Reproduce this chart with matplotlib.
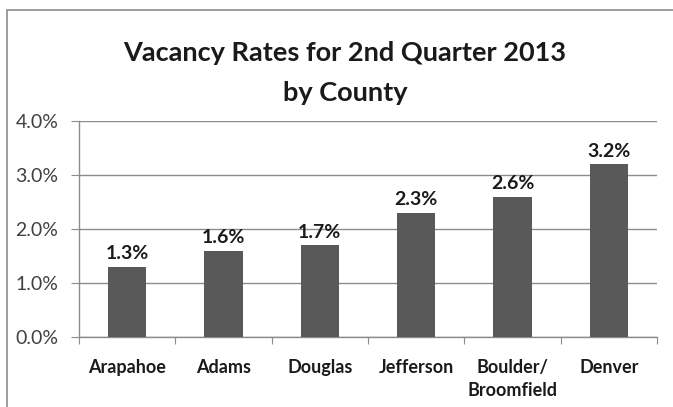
import matplotlib.pyplot as plt
from matplotlib.patches import Rectangle
from matplotlib.ticker import FuncFormatter

counties = ['Arapahoe', 'Adams', 'Douglas', 'Jefferson', 'Boulder/\nBroomfield', 'Denver']
rates = [1.3, 1.6, 1.7, 2.3, 2.6, 3.2]
y_ticks = [0.0, 1.0, 2.0, 3.0, 4.0]
title_lines = ['Vacancy Rates for 2nd Quarter 2013', 'by County']

plt.rcParams['font.family'] = ['Lato', 'DejaVu Sans']

fig = plt.figure(figsize=(6.73, 4.07), dpi=100)
W, H = 673, 407

# outer chart frame, running off the right and bottom edges
fig.patches.append(Rectangle((7 / W, -0.05), 1.1, 1 - 10 / H + 0.05,
                             transform=fig.transFigure, fill=False,
                             edgecolor='#8c8c8c', linewidth=1.2))

ax = fig.add_axes([79 / W, 1 - 337 / H, 578 / W, 216 / H])
x = range(len(counties))
bars = ax.bar(x, rates, width=0.4, color='#595959', zorder=3)

for b, v in zip(bars, rates):
    ax.text(b.get_x() + b.get_width() / 2, v + 0.08, f'{v:.1f}%',
            ha='center', va='bottom', fontsize=14, fontweight='bold',
            color='#1a1a1a')

ax.set_xlim(-0.5, len(counties) - 0.5)
ax.set_ylim(0, 4.0)
ax.set_yticks(y_ticks)
ax.yaxis.set_major_formatter(FuncFormatter(lambda v, p: f'{v:.1f}%'))
ax.yaxis.grid(True, color='#8c8c8c', linewidth=1.0, zorder=0)

# category boundary ticks, labels centred between them
ax.set_xticks([i - 0.5 for i in range(len(counties) + 1)])
ax.set_xticklabels([])
ax.set_xticks(list(x), minor=True)
ax.set_xticklabels(counties, minor=True, fontsize=13, fontweight='bold',
                   color='#1a1a1a', linespacing=1.4)
ax.tick_params(axis='x', which='major', length=5, color='#8c8c8c')
ax.tick_params(axis='x', which='minor', length=0, pad=16)
ax.tick_params(axis='y', length=6, color='#8c8c8c', labelsize=14,
               labelcolor='#404040', pad=9)

for s in ['top', 'right']:
    ax.spines[s].set_visible(False)
for s in ['left', 'bottom']:
    ax.spines[s].set_color('#8c8c8c')
    ax.spines[s].set_linewidth(1.0)

for i, line in enumerate(title_lines):
    fig.text(345 / W, 1 - (53 + 40 * i) / H, line, ha='center', va='center',
             fontsize=19.5, fontweight='bold', color='#1a1a1a')

fig.savefig('out.png', dpi=100)
